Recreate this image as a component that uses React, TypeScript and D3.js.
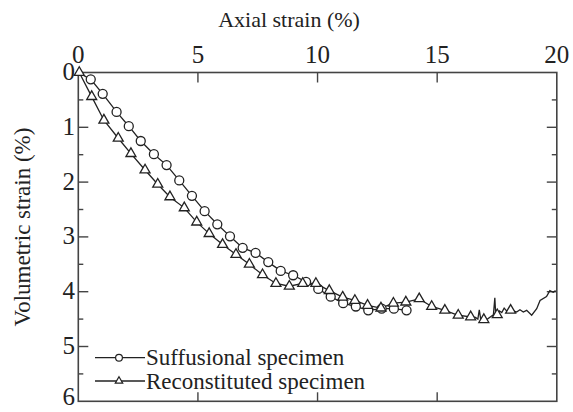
import React from "react";
import * as d3 from "d3";

const xTicks = [0, 5, 10, 15, 20];
const yTicks = [0, 1, 2, 3, 4, 5, 6];
const yMinorTicks = [0.5, 1.5, 2.5, 3.5, 4.5, 5.5];

const suffX = [0, 0.52, 1.02, 1.6, 2.11, 2.61, 3.16, 3.69, 4.22, 4.75, 5.28, 5.81, 6.34, 6.87, 7.41, 7.94, 8.46, 8.98, 9.52, 10.03, 10.55, 11.07, 11.6, 12.12, 12.68, 13.19, 13.72];
const suffY = [0, 0.125, 0.39, 0.72, 0.98, 1.25, 1.49, 1.69, 1.97, 2.25, 2.53, 2.77, 2.99, 3.2, 3.29, 3.46, 3.62, 3.7, 3.82, 3.95, 4.09, 4.21, 4.27, 4.34, 4.31, 4.31, 4.34];

const reconMarkX = [0.04, 0.56, 1.07, 1.67, 2.2, 2.79, 3.32, 3.83, 4.43, 4.95, 5.47, 6.03, 6.59, 7.15, 7.7, 8.26, 8.82, 9.38, 9.93, 10.49, 11.05, 11.56, 12.09, 12.65, 13.17, 13.69, 14.25, 14.77, 15.32, 15.88, 16.4, 16.95, 17.51, 18.07];
const reconMarkY = [0, 0.44, 0.87, 1.2, 1.48, 1.78, 2.04, 2.27, 2.47, 2.73, 2.94, 3.14, 3.32, 3.5, 3.69, 3.85, 3.9, 3.85, 3.85, 3.98, 4.1, 4.16, 4.25, 4.3, 4.21, 4.19, 4.13, 4.27, 4.34, 4.43, 4.46, 4.51, 4.42, 4.34];

// raw (noisy) readings between / after the marked points of the reconstituted test
const reconNoiseX = [16.6, 16.7, 16.76, 16.82, 17.1, 17.35, 17.41, 17.45, 17.6, 17.7, 17.8, 17.9, 18.32, 18.46, 18.6, 18.74, 18.95, 19.16, 19.3, 19.57, 19.71, 19.85, 19.95];
const reconNoiseY = [4.47, 4.5, 4.33, 4.5, 4.5, 4.42, 4.11, 4.45, 4.35, 4.38, 4.3, 4.35, 4.37, 4.33, 4.37, 4.34, 4.43, 4.31, 4.16, 4.09, 3.98, 4.01, 3.98];

const seriesNames = ["Suffusional specimen", "Reconstituted specimen"];

const W = 573;
const H = 412;
const L = 78.3, R = 556.8, T = 72.5, B = 401.3;
const FONT = "'Liberation Serif', 'Times New Roman', serif";
const INK = "#222";

export default function App() {
  const x = d3.scaleLinear().domain([0, 20]).range([L, R]);
  const y = d3.scaleLinear().domain([0, 6]).range([T, B]);

  const suff = suffX.map((v, i) => [v, suffY[i]] as [number, number]);
  const reconMarks = reconMarkX.map((v, i) => [v, reconMarkY[i]] as [number, number]);
  const reconLine = reconMarks
    .concat(reconNoiseX.map((v, i) => [v, reconNoiseY[i]] as [number, number]))
    .sort((a, b) => a[0] - b[0]);

  const line = d3.line<[number, number]>().x((d) => x(d[0])).y((d) => y(d[1]));
  const tri = d3.symbol().type(d3.symbolTriangle).size(43)();
  const triSmall = d3.symbol().type(d3.symbolTriangle).size(24)();

  return (
    <svg
      width={W}
      height={H}
      style={{ position: "absolute", left: 0, top: 0, background: "#fff" }}
      fontFamily={FONT}
    >
      <rect x={0} y={0} width={W} height={H} fill="#fff" />
      {/* titles */}
      <text x={289} y={27} fontSize={22} textAnchor="middle" fill={INK}>Axial strain (%)</text>
      <text transform={`translate(30,227) rotate(-90)`} fontSize={23} textAnchor="middle" fill={INK}>
        Volumetric strain (%)
      </text>

      {/* tick labels */}
      {xTicks.map((t) => (
        <text key={"xt" + t} x={x(t)} y={63} fontSize={25} textAnchor="middle" fill={INK}>{t}</text>
      ))}
      {yTicks.map((t) => (
        <text key={"yt" + t} x={75} y={Math.min(y(t) + 7.5, 405)} fontSize={25} textAnchor="end" fill={INK}>{t}</text>
      ))}

      {/* ticks */}
      <g stroke="#444" strokeWidth={1.4}>
        {xTicks.slice(1, -1).map((t) => (
          <g key={"xk" + t}>
            <line x1={x(t)} x2={x(t)} y1={T} y2={T + 10} />
            <line x1={x(t)} x2={x(t)} y1={B} y2={B - 9} />
          </g>
        ))}
        {yTicks.slice(1, -1).map((t) => (
          <g key={"yk" + t}>
            <line x1={L} x2={L + 10} y1={y(t)} y2={y(t)} />
            <line x1={R} x2={R - 10} y1={y(t)} y2={y(t)} />
          </g>
        ))}
        {yMinorTicks.map((t) => (
          <g key={"ym" + t}>
            <line x1={L} x2={L + 5} y1={y(t)} y2={y(t)} />
            <line x1={R} x2={R - 5} y1={y(t)} y2={y(t)} />
          </g>
        ))}
      </g>
      <rect x={L} y={T} width={R - L} height={B - T} fill="none" stroke="#444" strokeWidth={1.6} />

      {/* series lines */}
      <path d={line(suff) || ""} fill="none" stroke={INK} strokeWidth={1.3} />
      <path d={line(reconLine) || ""} fill="none" stroke={INK} strokeWidth={1.3} />

      {/* markers */}
      {suff.slice(1).map((d, i) => (
        <circle key={"c" + i} cx={x(d[0])} cy={y(d[1])} r={4.5} fill="#fff" stroke={INK} strokeWidth={1.3} />
      ))}
      {reconMarks.map((d, i) => (
        <path key={"t" + i} d={tri || ""} transform={`translate(${x(d[0])},${y(d[1])})`} fill="#fff" stroke={INK} strokeWidth={1.3} />
      ))}

      {/* legend */}
      <g>
        <line x1={95} x2={145} y1={357.7} y2={357.7} stroke={INK} strokeWidth={1.3} />
        <circle cx={119} cy={357.7} r={3.4} fill="#fff" stroke={INK} strokeWidth={1.2} />
        <text x={146} y={357.7} dy="0.33em" fontSize={23} fill={INK}>{seriesNames[0]}</text>
        <line x1={95} x2={145} y1={381} y2={381} stroke={INK} strokeWidth={1.3} />
        <path d={triSmall || ""} transform={`translate(119,381)`} fill="#fff" stroke={INK} strokeWidth={1.2} />
        <text x={146} y={381} dy="0.33em" fontSize={23} fill={INK}>{seriesNames[1]}</text>
      </g>
    </svg>
  );
}
